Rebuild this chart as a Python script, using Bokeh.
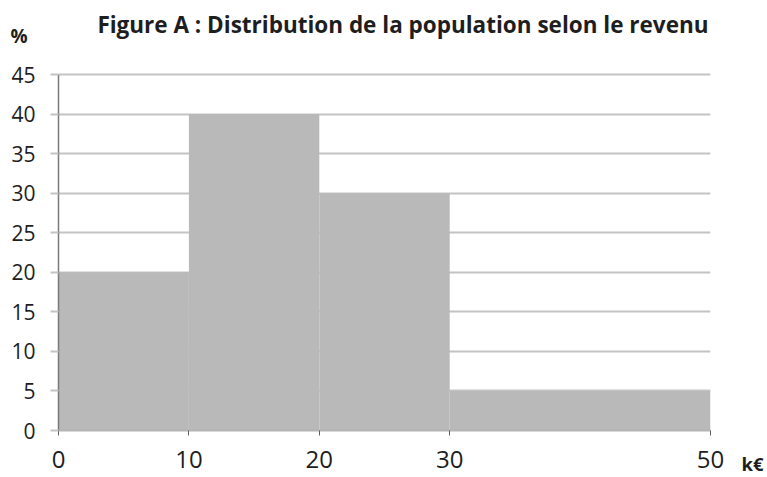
from bokeh.plotting import figure
from bokeh.models import FixedTicker, Range1d, Title
from bokeh.embed import file_html
from bokeh.resources import INLINE

# Data
bin_left = [0, 10, 20, 30]
bin_right = [10, 20, 30, 50]
percent = [20, 40, 30, 5]
x_ticks = [0, 10, 20, 30, 50]
y_ticks = [0, 5, 10, 15, 20, 25, 30, 35, 40, 45]
title_text = "Figure A : Distribution de la population selon le revenu"
y_unit = "%"
x_unit = "k€"

FONT = "Open Sans"
TXT = "#1e1e1e"

# y range reaches a little above 45 so the frame top sits just under the "%" text;
# the axis line itself is bounded to 0..45
p = figure(width=767, height=477, output_backend="svg", toolbar_location=None,
           x_range=Range1d(0, 50), y_range=Range1d(0, 48.29),
           min_border_left=58, min_border_right=57, min_border_top=48, min_border_bottom=47)
p.outline_line_color = None
p.background_fill_color = "white"

p.quad(left=bin_left, right=bin_right, top=percent, bottom=0,
       fill_color="#b9b9b9", line_color=None)

# axes
p.xaxis.ticker = FixedTicker(ticks=x_ticks)
p.yaxis.ticker = FixedTicker(ticks=y_ticks)
p.yaxis.bounds = (0, 45)
p.xgrid.grid_line_color = None
p.ygrid.grid_line_color = "#c4c4c4"
p.ygrid.grid_line_width = 2

for ax in (p.xaxis[0], p.yaxis[0]):
    ax.major_label_text_font = FONT
    ax.major_label_text_color = TXT
    ax.minor_tick_line_color = None
    ax.major_tick_in = 0

p.yaxis.major_label_text_font_size = "21px"
p.yaxis.axis_line_color = "#7a7a7a"
p.yaxis.axis_line_width = 1.5
p.yaxis.major_tick_line_color = "#c4c4c4"
p.yaxis.major_tick_line_width = 2
p.yaxis.major_tick_out = 8
p.yaxis.major_label_standoff = 15

p.xaxis.major_label_text_font_size = "24px"
p.xaxis.axis_line_color = "#b4b4b4"
p.xaxis.axis_line_width = 2
p.xaxis.major_tick_line_color = "#606060"
p.xaxis.major_tick_line_width = 1
p.xaxis.major_tick_out = 5
p.xaxis.major_label_standoff = 15

# title and unit texts (side-panel titles, so they are not clipped by the frame)
p.title = Title(text=title_text, align="right", offset=2, vertical_align="top", standoff=-35,
                text_font=FONT, text_font_style="bold", text_font_size="22.5px", text_color=TXT)
p.add_layout(Title(text=y_unit, align="left", offset=-48, vertical_align="top", standoff=-6.4,
                   text_font=FONT, text_font_style="bold", text_font_size="19px", text_color=TXT),
             "above")
p.add_layout(Title(text=x_unit, align="right", offset=-53, vertical_align="top", standoff=-39,
                   text_font=FONT, text_font_style="bold", text_font_size="18.5px", text_color=TXT),
             "below")

open("out.html", "w").write(file_html(p, INLINE))
